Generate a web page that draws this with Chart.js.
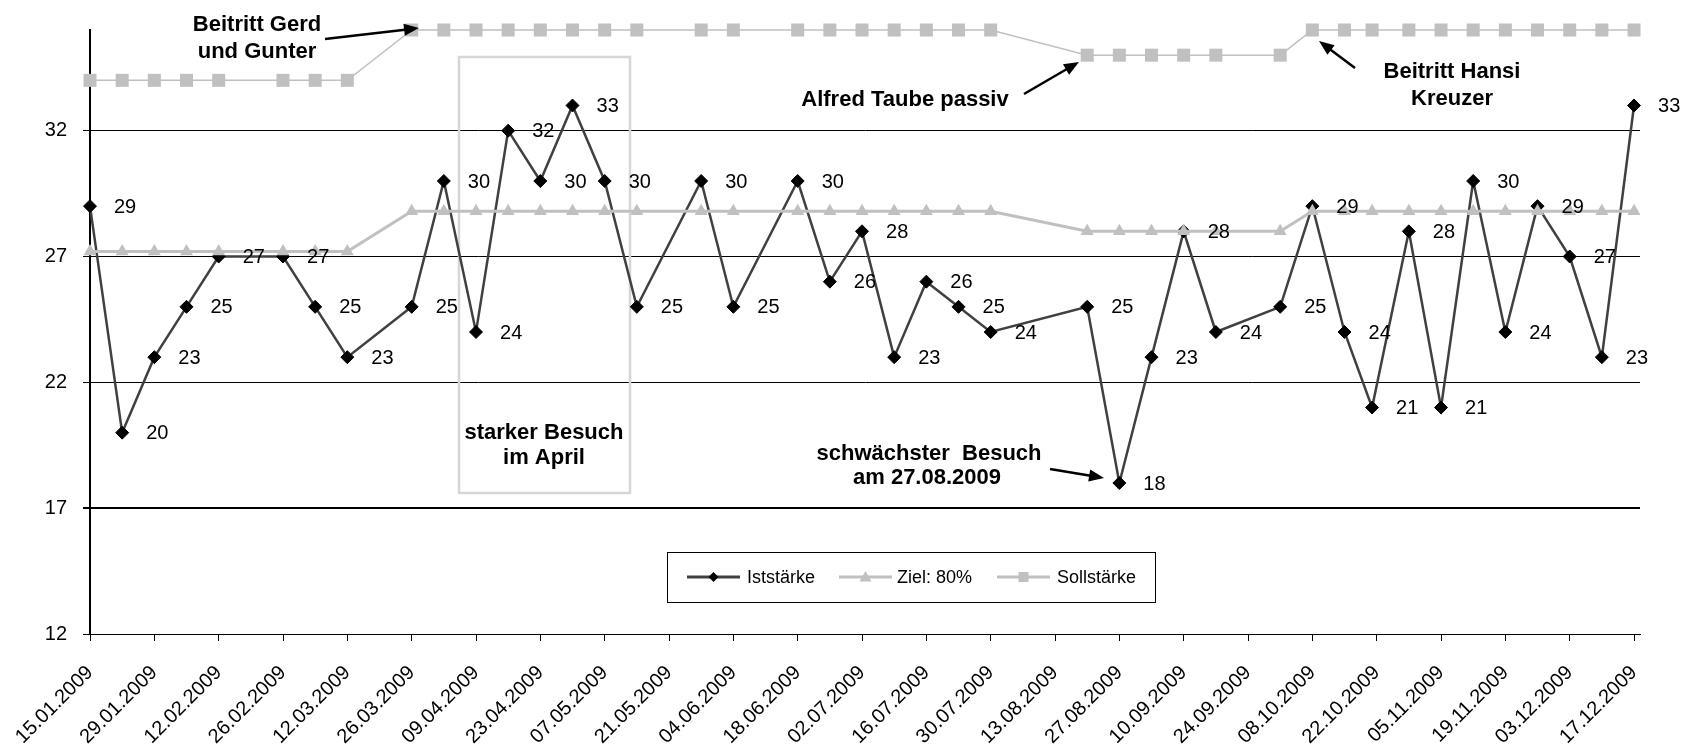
<!DOCTYPE html>
<html><head><meta charset="utf-8">
<script src="https://cdn.jsdelivr.net/npm/chart.js@4.4.1/dist/chart.umd.min.js"></script>
<style>html,body{margin:0;padding:0;background:#fff;}#wrap{width:1692px;height:747px;}</style>
</head><body><div id="wrap"><canvas id="c" width="1692" height="747"></canvas></div>
<script>
const pointDates = ["15.01.2009","22.01.2009","29.01.2009","05.02.2009","12.02.2009","26.02.2009","05.03.2009","12.03.2009","26.03.2009","02.04.2009","09.04.2009","16.04.2009","23.04.2009","30.04.2009","07.05.2009","14.05.2009","28.05.2009","04.06.2009","18.06.2009","25.06.2009","02.07.2009","09.07.2009","16.07.2009","23.07.2009","30.07.2009","20.08.2009","27.08.2009","03.09.2009","10.09.2009","17.09.2009","01.10.2009","08.10.2009","15.10.2009","21.10.2009","29.10.2009","05.11.2009","12.11.2009","19.11.2009","26.11.2009","03.12.2009","10.12.2009","17.12.2009"];
const istValues  = [29,20,23,25,27,27,25,23,25,30,24,32,30,33,30,25,30,25,30,26,28,23,26,25,24,25,18,23,28,24,25,29,24,21,28,21,30,24,29,27,23,33];
const zielValues = [27.2,27.2,27.2,27.2,27.2,27.2,27.2,27.2,28.8,28.8,28.8,28.8,28.8,28.8,28.8,28.8,28.8,28.8,28.8,28.8,28.8,28.8,28.8,28.8,28.8,28,28,28,28,28,28,28.8,28.8,28.8,28.8,28.8,28.8,28.8,28.8,28.8,28.8,28.8];
const sollValues = [34,34,34,34,34,34,34,34,36,36,36,36,36,36,36,36,36,36,36,36,36,36,36,36,36,35,35,35,35,35,35,36,36,36,36,36,36,36,36,36,36,36];
const tickLabels = ["15.01.2009","29.01.2009","12.02.2009","26.02.2009","12.03.2009","26.03.2009","09.04.2009","23.04.2009","07.05.2009","21.05.2009","04.06.2009","18.06.2009","02.07.2009","16.07.2009","30.07.2009","13.08.2009","27.08.2009","10.09.2009","24.09.2009","08.10.2009","22.10.2009","05.11.2009","19.11.2009","03.12.2009","17.12.2009"];
const seriesNames = ["Iststärke","Ziel: 80%","Sollstärke"];
const yTickValues = [12,17,22,27,32];

const FONT = '"Liberation Sans", Arial, sans-serif';
const DAY = 86400000;
function parseDate(s){const p=s.split('.').map(Number);return Date.UTC(p[2],p[1]-1,p[0]);}
const t0 = parseDate(tickLabels[0]);
const dayOf = s => Math.round((parseDate(s)-t0)/DAY);
const xs = pointDates.map(dayOf);
const tickDays = tickLabels.map(dayOf);
const pts = vals => xs.map((x,i)=>({x:x,y:vals[i]}));

function arrow(ctx,x1,y1,x2,y2){
  const a=Math.atan2(y2-y1,x2-x1), L=15, W=6;
  ctx.save();ctx.strokeStyle='#000';ctx.fillStyle='#000';ctx.lineWidth=2.5;
  ctx.beginPath();ctx.moveTo(x1,y1);ctx.lineTo(x2-Math.cos(a)*L*0.8,y2-Math.sin(a)*L*0.8);ctx.stroke();
  ctx.beginPath();ctx.moveTo(x2,y2);
  ctx.lineTo(x2-Math.cos(a)*L+Math.sin(a)*W,y2-Math.sin(a)*L-Math.cos(a)*W);
  ctx.lineTo(x2-Math.cos(a)*L-Math.sin(a)*W,y2-Math.sin(a)*L+Math.cos(a)*W);
  ctx.closePath();ctx.fill();ctx.restore();
}
function marker(ctx,type,x,y,r,color){
  ctx.save();ctx.fillStyle=color;ctx.beginPath();
  if(type==='diamond'){ctx.moveTo(x-r,y);ctx.lineTo(x,y-r);ctx.lineTo(x+r,y);ctx.lineTo(x,y+r);}
  else if(type==='triangle'){ctx.moveTo(x,y-r);ctx.lineTo(x+r,y+r*0.75);ctx.lineTo(x-r,y+r*0.75);}
  else {ctx.rect(x-r,y-r,2*r,2*r);}
  ctx.closePath();ctx.fill();ctx.restore();
}

const decor = {
  id:'decor',
  beforeDatasetsDraw(chart){
    const ctx=chart.ctx;ctx.save();
    ctx.strokeStyle='#d6d6d6';ctx.lineWidth=2.5;
    ctx.strokeRect(459,57,171,436);
    ctx.restore();
  },
  afterDatasetsDraw(chart){
    const ctx=chart.ctx;
    const meta=chart.getDatasetMeta(0);
    ctx.save();ctx.fillStyle='#000';ctx.font='20px '+FONT;ctx.textAlign='left';ctx.textBaseline='middle';
    meta.data.forEach((p,i)=>{ctx.fillText(String(istValues[i]),p.x+24,p.y+1);});
    ctx.font='bold 22px '+FONT;ctx.textAlign='center';ctx.textBaseline='alphabetic';
    ctx.fillText('Beitritt Gerd',257,31);
    ctx.fillText('und Gunter',257,58);
    ctx.fillText('starker Besuch',544,439);
    ctx.fillText('im April',544,464);
    ctx.fillText('Alfred Taube passiv',905,106);
    ctx.fillText('Beitritt Hansi',1452,78);
    ctx.fillText('Kreuzer',1452,105);
    ctx.fillText('schwächster  Besuch',929,460);
    ctx.fillText('am 27.08.2009',927,484);
    ctx.restore();
    arrow(ctx,325,39,419,28);
    arrow(ctx,1024,94,1079,62);
    arrow(ctx,1355,68,1319,41);
    arrow(ctx,1050,469,1104,478);
    const bx=667,by=552,bw=488,bh=50,cy=by+25;
    ctx.save();ctx.strokeStyle='#000';ctx.lineWidth=1;ctx.strokeRect(bx+0.5,by+0.5,bw,bh);
    const items=[
      {x1:687,x2:740,tx:747,col:'#404040',mcol:'#000',m:'diamond',r:5},
      {x1:839,x2:892,tx:897,col:'#c0c0c0',mcol:'#c0c0c0',m:'triangle',r:6},
      {x1:997,x2:1050,tx:1057,col:'#c0c0c0',mcol:'#c0c0c0',m:'square',r:5}
    ];
    ctx.font='18px '+FONT;ctx.textBaseline='middle';ctx.textAlign='left';
    items.forEach((it,i)=>{
      ctx.strokeStyle=it.col;ctx.lineWidth=3;ctx.beginPath();ctx.moveTo(it.x1,cy);ctx.lineTo(it.x2,cy);ctx.stroke();
      marker(ctx,it.m,(it.x1+it.x2)/2,cy,it.r,it.mcol);
      ctx.fillStyle='#000';ctx.fillText(seriesNames[i],it.tx,cy+1);
    });
    ctx.restore();
  }
};

new Chart(document.getElementById('c'),{
  type:'line',
  data:{datasets:[
    {label:seriesNames[0],data:pts(istValues),borderColor:'#404040',borderWidth:2.5,pointStyle:'rectRot',pointRadius:6.5,pointBackgroundColor:'#000',pointBorderColor:'#000',pointBorderWidth:1,order:2,clip:false},
    {label:seriesNames[1],data:pts(zielValues),borderColor:'#c0c0c0',borderWidth:3,pointStyle:'triangle',pointRadius:7.5,pointBackgroundColor:'#c0c0c0',pointBorderColor:'#c0c0c0',pointBorderWidth:0,order:1,clip:false},
    {label:seriesNames[2],data:pts(sollValues),borderColor:'#c0c0c0',borderWidth:1.5,pointStyle:'rect',pointRadius:9.2,pointBackgroundColor:'#c0c0c0',pointBorderColor:'#c0c0c0',pointBorderWidth:0,order:3,clip:false}
  ]},
  options:{
    responsive:false,animation:false,devicePixelRatio:1,
    layout:{padding:{top:30,right:52,left:0,bottom:0}},
    plugins:{legend:{display:false},tooltip:{enabled:false}},
    elements:{line:{tension:0}},
    scales:{
      x:{type:'linear',min:0,max:tickDays[tickDays.length-1]+1.3,
        afterBuildTicks:s=>{s.ticks=tickDays.map(v=>({value:v}));},
        afterFit:s=>{s.height=113;s.paddingLeft=0;s.paddingRight=0;},
        grid:{drawOnChartArea:false,drawTicks:true,tickLength:7,color:'#000',lineWidth:1},
        border:{display:true,color:'#000',width:1},
        ticks:{autoSkip:false,maxRotation:45,minRotation:45,padding:20,color:'#000',font:{family:FONT,size:20},callback:(v,i)=>tickLabels[i]}
      },
      y:{min:12,max:36,
        afterBuildTicks:s=>{s.ticks=yTickValues.map(v=>({value:v}));},
        afterFit:s=>{s.width=90;},
        grid:{color:'#000',lineWidth:c=>(c.tick&&c.tick.value===17)?2:1,tickLength:7,drawTicks:true},
        border:{color:'#000',width:2},
        ticks:{padding:16,color:'#000',font:{family:FONT,size:20}}
      }
    }
  },
  plugins:[decor]
});
</script></body></html>
